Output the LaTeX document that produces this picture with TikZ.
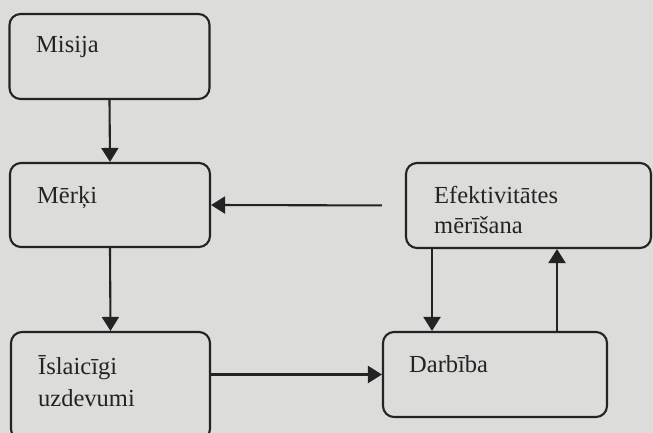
\documentclass[tikz,border=0pt]{standalone}
\usepackage{fontspec}
\setmainfont{Liberation Serif}
\usetikzlibrary{arrows.meta}
\definecolor{bgcol}{RGB}{220,220,218}
\definecolor{ink}{RGB}{35,35,35}
\tikzset{
  box/.style={draw=ink, line width=2.1pt, rounded corners=11pt, inner sep=0pt},
  lbl/.style={anchor=base west, inner sep=0pt, text=ink, font=\fontsize{24.5}{28}\selectfont},
  arr/.style={draw=ink, line width=2.1pt, -{Triangle[length=14pt,width=17pt]}}
}
\begin{document}
\begin{tikzpicture}[x=1pt,y=-1pt]
\fill[bgcol] (0,0) rectangle (653,433);
\useasboundingbox (0,0) rectangle (653,433);
\clip (0,0) rectangle (653,433);
% boxes
\node[box, minimum width=200pt, minimum height=85pt] (mis) at (109.5,56.5) {};
\node[box, minimum width=200pt, minimum height=84pt] (mer) at (110,205) {};
\node[box, minimum width=245pt, minimum height=85pt] (efe) at (528.5,205.5) {};
\node[box, minimum width=224pt, minimum height=85pt] (dar) at (495,374.5) {};
\node[box, minimum width=199pt, minimum height=108pt] (isl) at (110.5,386) {};
% labels
\node[lbl] (tmis) at (36,53) {Misija};
\node[lbl] (tmer) at (37,203) {Mērķi};
\node[lbl] (tefe1) at (434,203) {Efektivitātes};
\node[lbl] (tefe2) at (434,233) {mērīšana};
\node[lbl] (tdar) at (409,372) {Darbība};
\node[lbl] (tisl1) at (38,374) {Īslaicīgi};
\node[lbl] (tisl2) at (38,406) {uzdevumi};
% connectors
\draw[arr] (mis.south) -- (mer.north);
\draw[arr] (mer.south) -- (isl.north);
\draw[arr, shorten <=23pt] (efe.west) -- (mer.east);
\draw[arr] (isl.east |- dar.west) -- (dar.west);
\draw[arr] ([xshift=-63pt]dar.north |- efe.south) -- ([xshift=-63pt]dar.north);
\draw[arr] ([xshift=62pt]dar.north) -- ([xshift=62pt]dar.north |- efe.south);
\end{tikzpicture}
\end{document}
